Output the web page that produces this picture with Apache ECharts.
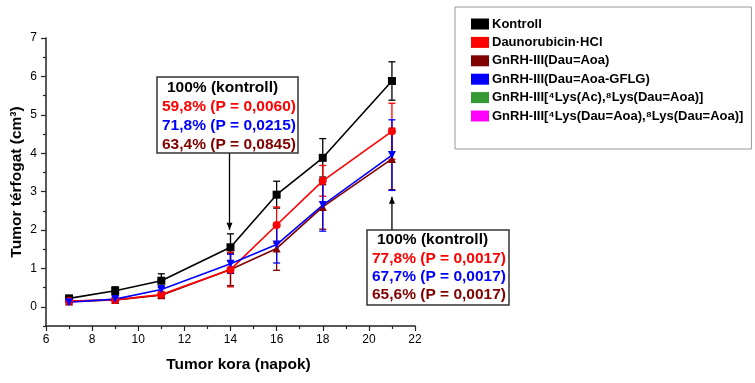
<!DOCTYPE html>
<html>
<head>
<meta charset="utf-8">
<script src="https://cdn.jsdelivr.net/npm/echarts@6/dist/echarts.min.js"></script>
<style>
  html, body { margin: 0; padding: 0; background: #fff; }
  #chart { width: 755px; height: 383px; }
</style>
</head>
<body>
<div id="chart"></div>
<script>
const FONT = 'Liberation Sans, Arial, sans-serif';

const days = [7, 9, 11, 14, 16, 18, 21];
const seriesNames = [
  'Kontroll',
  'Daunorubicin·HCl',
  'GnRH-III(Dau=Aoa)',
  'GnRH-III(Dau=Aoa-GFLG)',
  'GnRH-III[⁴Lys(Ac),⁸Lys(Dau=Aoa)]',
  'GnRH-III[⁴Lys(Dau=Aoa),⁸Lys(Dau=Aoa)]'
];
const colors = ['#000000', '#ff0000', '#800000', '#0000ff', '#339933', '#ff00ff'];

const kontroll = [0.22, 0.42, 0.68, 1.55, 2.92, 3.88, 5.88];
const kontrollErr = [0.05, 0.10, 0.18, 0.35, 0.35, 0.50, 0.50];
const dau = [0.15, 0.18, 0.32, 0.97, 2.13, 3.28, 4.57];
const dauErr = [0.03, 0.05, 0.08, 0.45, 0.47, 0.40, 0.73];
const aoa = [0.14, 0.18, 0.30, 0.97, 1.52, 2.60, 3.85];
const aoaErr = [0.03, 0.04, 0.06, 0.42, 0.57, 0.58, 0.80];
const gflg = [0.12, 0.20, 0.45, 1.12, 1.62, 2.65, 3.95];
const gflgErr = [0.04, 0.05, 0.10, 0.25, 0.48, 0.68, 0.92];

const yTicks = [0, 1, 2, 3, 4, 5, 6, 7];
const yMinorTicks = [-0.5, 0.5, 1.5, 2.5, 3.5, 4.5, 5.5, 6.5];

const note1 = ['100% (kontroll)', '59,8% (P = 0,0060)', '71,8% (P = 0,0215)', '63,4% (P = 0,0845)'];
const note2 = ['100% (kontroll)', '77,8% (P = 0,0017)', '67,7% (P = 0,0017)', '65,6% (P = 0,0017)'];

function pairs(vals) {
  return days.map((d, i) => [d, vals[i]]);
}
function errData(vals, errs) {
  return days.map((d, i) => [d, vals[i] - errs[i], vals[i] + errs[i]]);
}

function renderErr(params, api) {
  const x = api.value(0);
  const top = api.coord([x, api.value(2)]);
  const bot = api.coord([x, api.value(1)]);
  const w = 3.5;
  const style = { stroke: api.visual('color'), lineWidth: 1.3 };
  return {
    type: 'group',
    children: [
      { type: 'line', shape: { x1: top[0], y1: top[1], x2: bot[0], y2: bot[1] }, style: style },
      { type: 'line', shape: { x1: top[0] - w, y1: top[1], x2: top[0] + w, y2: top[1] }, style: style },
      { type: 'line', shape: { x1: bot[0] - w, y1: bot[1], x2: bot[0] + w, y2: bot[1] }, style: style }
    ]
  };
}

function lineSeries(idx, vals, symbol, rotate) {
  return {
    name: seriesNames[idx],
    type: 'line',
    data: pairs(vals),
    symbol: symbol,
    symbolRotate: rotate || 0,
    symbolSize: 8,
    color: colors[idx],
    lineStyle: { width: 1.6, color: colors[idx] },
    itemStyle: { color: colors[idx] },
    z: 3,
    animation: false
  };
}
function errSeries(idx, vals, errs) {
  return {
    name: seriesNames[idx],
    type: 'custom',
    renderItem: renderErr,
    data: errData(vals, errs),
    itemStyle: { color: colors[idx] },
    encode: { x: 0, y: [1, 2] },
    z: 2,
    animation: false
  };
}

const chart = echarts.init(document.getElementById('chart'));

const option = {
  backgroundColor: '#fff',
  animation: false,
  color: colors,
  grid: { left: 46, top: 38, right: 340, bottom: 57 },
  legend: {
    data: seriesNames.map((n, i) => ({ name: n, itemStyle: { color: colors[i] } })),
    orient: 'vertical',
    left: 455,
    top: 7,
    icon: 'rect',
    itemWidth: 18,
    itemHeight: 11,
    itemGap: 4.4,
    padding: [10, 8, 26, 16],
    borderColor: '#999',
    borderWidth: 1,
    selectedMode: false,
    textStyle: { fontFamily: FONT, fontWeight: 'bold', fontSize: 13, lineHeight: 14, color: '#000', padding: [0, 0, 0, -2] }
  },
  xAxis: {
    type: 'value',
    min: 6,
    max: 22,
    interval: 2,
    name: 'Tumor kora (napok)',
    nameLocation: 'middle',
    nameGap: 31,
    nameTextStyle: { fontFamily: FONT, fontWeight: 'bold', fontSize: 15.5, color: '#000', padding: [0, 0, 0, 16] },
    axisLine: { onZero: false, lineStyle: { color: '#222', width: 1.5 } },
    axisTick: { length: 5, lineStyle: { color: '#222', width: 1.2 } },
    minorTick: { show: true, splitNumber: 2, length: 3, lineStyle: { color: '#222', width: 1.2 } },
    axisLabel: { fontFamily: FONT, fontSize: 12, color: '#000', margin: 8 },
    splitLine: { show: false }
  },
  yAxis: [
    {
      type: 'value',
      min: -0.5,
      max: 7,
      name: 'Tumor térfogat (cm³)',
      nameLocation: 'middle',
      nameRotate: 90,
      nameGap: 21,
      nameTextStyle: { fontFamily: FONT, fontWeight: 'bold', fontSize: 15.5, color: '#000' },
      axisLine: { onZero: false, lineStyle: { color: '#222', width: 1.5 } },
      axisTick: { length: 5, customValues: yTicks, lineStyle: { color: '#222', width: 1.2 } },
      axisLabel: { customValues: yTicks, fontFamily: FONT, fontSize: 12, color: '#000', margin: 9 },
      splitLine: { show: false }
    },
    {
      type: 'value',
      min: -0.5,
      max: 7,
      position: 'left',
      axisLine: { show: false },
      axisTick: { show: true, length: 3, customValues: yMinorTicks, lineStyle: { color: '#222', width: 1.2 } },
      axisLabel: { show: false },
      splitLine: { show: false }
    }
  ],
  series: [
    errSeries(0, kontroll, kontrollErr),
    errSeries(1, dau, dauErr),
    errSeries(2, aoa, aoaErr),
    errSeries(3, gflg, gflgErr),
    lineSeries(0, kontroll, 'rect'),
    lineSeries(2, aoa, 'triangle'),
    lineSeries(1, dau, 'circle'),
    lineSeries(3, gflg, 'triangle', 180),
    { name: seriesNames[4], type: 'line', data: [], color: colors[4], itemStyle: { color: colors[4] } },
    { name: seriesNames[5], type: 'line', data: [], color: colors[5], itemStyle: { color: colors[5] } }
  ]
};

chart.setOption(option);

function noteBox(lines, box) {
  const lineColors = ['#000', '#ff0000', '#0000ff', '#800000'];
  const children = [
    { type: 'rect', shape: { x: box.left, y: box.top, width: box.w, height: box.h },
      style: { fill: '#fff', stroke: '#333', lineWidth: 1.5 } }
  ];
  lines.forEach((t, i) => {
    children.push({
      type: 'text',
      x: box.left + (i === 0 ? 10 : 5),
      y: box.top + box.first + i * box.step,
      style: { text: t, fill: lineColors[i], font: 'bold 15.5px ' + FONT, verticalAlign: 'middle' }
    });
  });
  return children;
}

const p14 = chart.convertToPixel({ gridIndex: 0 }, [14, 1.9]);
const p21 = chart.convertToPixel({ gridIndex: 0 }, [21, 3.05]);

const box1 = { left: 157, top: 77, w: 141, h: 76, first: 11, step: 19 };
const box2 = { left: 367, top: 230, w: 142, h: 75, first: 10, step: 18.3 };

function arrow(x, y1, y2) {
  const dir = y2 > y1 ? 1 : -1;
  return [
    { type: 'line', shape: { x1: x, y1: y1, x2: x, y2: y2 }, style: { stroke: '#000', lineWidth: 1.3 } },
    { type: 'polygon', shape: { points: [[x, y2], [x - 3, y2 - dir * 7], [x + 3, y2 - dir * 7]] },
      style: { fill: '#000' } }
  ];
}

chart.setOption({
  graphic: [].concat(
    arrow(p14[0] - 1, box1.top + box1.h, p14[1] - 4),
    arrow(p21[0], box2.top, p21[1] + 7),
    noteBox(note1, box1),
    noteBox(note2, box2)
  )
});
</script>
</body>
</html>
